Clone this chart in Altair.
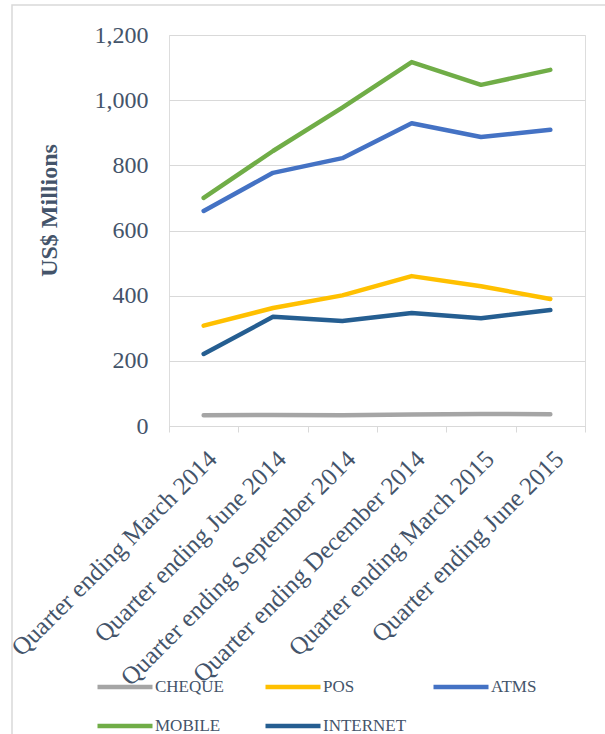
import altair as alt
import pandas as pd

quarters = [
    "Quarter ending March 2014",
    "Quarter ending June 2014",
    "Quarter ending September 2014",
    "Quarter ending December 2014",
    "Quarter ending March 2015",
    "Quarter ending June 2015",
]
series_names = ["CHEQUE", "POS", "ATMS", "MOBILE", "INTERNET"]
cheque = [33, 34, 33, 35, 37, 36]
pos = [308, 362, 401, 460, 429, 390]
atms = [660, 777, 822, 929, 887, 909]
mobile = [700, 844, 977, 1117, 1047, 1093]
internet = [221, 335, 322, 347, 331, 356]
colors = ["#A5A5A5", "#FFC000", "#4472C4", "#70AD47", "#255E91"]
y_ticks = [0, 200, 400, 600, 800, 1000, 1200]

values = [cheque, pos, atms, mobile, internet]
rows = []
for name, vals in zip(series_names, values):
    for q, v in zip(quarters, vals):
        rows.append({"Quarter": q, "Series": name, "Value": v})
df = pd.DataFrame(rows)

text_color = "#44546A"
grid_color = "#D9D9D9"
font = "Liberation Serif"

lines = alt.Chart(df).mark_line(
    strokeWidth=4.5, strokeCap="round", strokeJoin="round"
).encode(
    x=alt.X(
        "Quarter:N",
        sort=quarters,
        scale=alt.Scale(paddingInner=0, paddingOuter=0),
        axis=alt.Axis(
            title=None,
            labelAngle=-45,
            labelAlign="right",
            labelBaseline="top",
            labelFontSize=25,
            labelFont=font,
            labelColor=text_color,
            labelPadding=14,
            tickBand="extent",
            tickSize=6,
            tickColor=grid_color,
            domainColor=grid_color,
            grid=False,
            labelLimit=400,
        ),
    ),
    y=alt.Y(
        "Value:Q",
        scale=alt.Scale(domain=[0, 1200], nice=False),
        axis=alt.Axis(
            values=y_ticks,
            format=",d",
            title="US$ Millions",
            titleFont=font,
            titleFontSize=24,
            titleFontWeight="bold",
            titleColor=text_color,
            titleX=-120,
            titleY=175,
            titleBaseline="middle",
            titleAlign="center",
            titleAngle=270,
            labelFont=font,
            labelFontSize=24,
            labelColor=text_color,
            labelPadding=21,
            ticks=False,
            domain=False,
            grid=True,
            gridColor=grid_color,
        ),
    ),
    color=alt.Color(
        "Series:N",
        sort=series_names,
        scale=alt.Scale(domain=series_names, range=colors),
        legend=alt.Legend(
            title=None,
            orient="none",
            direction="horizontal",
            legendX=-74,
            legendY=622,
            columns=3,
            gridAlign="all",
            columnPadding=17,
            rowPadding=-24,
            symbolType="stroke",
            symbolStrokeWidth=4.5,
            symbolSize=3025,
            labelFont=font,
            labelFontSize=17,
            labelColor=text_color,
            labelOffset=0,
        ),
    ),
)

border = alt.Chart(pd.DataFrame({"b": [0]})).mark_rect(
    fill=None, stroke=grid_color, strokeWidth=1.5
).encode(
    x=alt.value(-157), x2=alt.value(470), y=alt.value(-30), y2=alt.value(720)
)

chart = alt.layer(border, lines).properties(
    width=416,
    height=391,
    autosize="none",
    padding={"left": 169, "top": 35, "right": 20, "bottom": 308},
).configure_view(stroke=None).configure(background="white")

chart.save("out.html", embed_options={"renderer": "svg", "actions": False})
